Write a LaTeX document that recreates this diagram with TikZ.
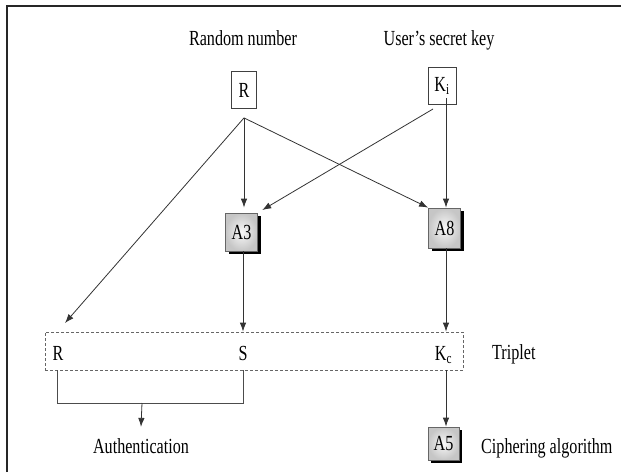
\documentclass[tikz,border=0pt]{standalone}
\usepackage{fontspec}
\setmainfont{Liberation Serif}[FakeStretch=0.75]
\usetikzlibrary{arrows.meta,shadows}

\begin{document}
\begin{tikzpicture}[x=1pt,y=-1pt]
\tikzset{every node/.style={font=\fontsize{21.5}{24}\selectfont,inner sep=0pt},
	keybox/.style={draw=black!75,line width=0.8pt,fill=white,minimum width=25pt,minimum height=37pt},
	algobox/.style={draw=black!60,line width=0.8pt,minimum width=32pt,minimum height=38pt,
		inner color=gray!5,outer color=gray!45,
		drop shadow={shadow xshift=3pt,shadow yshift=-3pt,fill=black,opacity=1}},
	link/.style={draw=black!80,line width=0.8pt,-{Latex[length=9pt,width=6.5pt]}},
	wire/.style={draw=black!70,line width=0.8pt}}
\useasboundingbox (0,0) rectangle (621,472);

\draw[line width=2pt,black!85] (7,472) -- (7,6) -- (621,6);

\node[anchor=base] (rnd) at (243,45) {Random number};
\node[anchor=base] (usr) at (439,45) {User's secret key};
\node[keybox] (R) at (244,90) {R};
\node[keybox,minimum width=28pt] (Ki) at (442,86) {K\textsubscript{i}};

\node[algobox] (A3) at (241.5,232) {A3};
\node[algobox,minimum height=40pt] (A8) at (444.5,228) {A8};

\node[draw=black!60,line width=0.8pt,dash pattern=on 3pt off 2pt,minimum width=418pt,minimum height=38pt] (trip) at (254,351) {};
\node[anchor=base] (Rt) at (58,360) {R};
\node[anchor=base] (St) at (243,360) {S};
\node[anchor=base] (Kc) at (443.5,360) {K\textsubscript{c}};
\node[anchor=base west] (tl) at (492,359) {Triplet};

\node[anchor=base] (auth) at (141,453) {Authentication};
\node[algobox,minimum width=31pt,minimum height=33pt] (A5) at (443.5,443.5) {A5};
\node[anchor=base west] (ciph) at (481,453) {Ciphering algorithm};

\coordinate (Rs) at ([yshift=-9pt]R.south);
\coordinate (Ks) at (433,109);
\coordinate (Kd) at (446,98);
\coordinate (rin) at (65,323);
\coordinate (join) at (142,403);

\draw[link,shorten >=5pt] (Rs) -- (Rs |- A3.north);
\draw[link] (Rs) -- (A8.north west);
\draw[link] (Rs) -- (rin);
\draw[link,shorten >=5pt] (Ks) -- (A3.north east);
\draw[link] (Kd) -- (Kd |- A8.north);

\draw[link] (A3.south -| St) -- (St |- trip.north);
\draw[link] (A8.south -| Kd) -- (Kd |- trip.north);

\draw[wire] (57,370) -- (57,403) -| (St |- trip.south);
\draw[link] (join) -- ([yshift=11pt]auth.north);
\draw[link] (Kd |- trip.south) -- (Kd |- A5.north);
\end{tikzpicture}
\end{document}
